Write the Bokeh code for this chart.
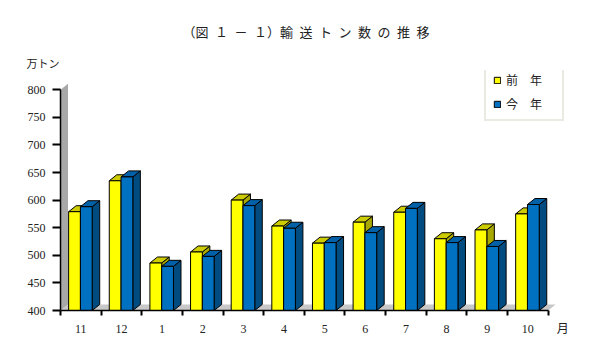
from bokeh.plotting import figure
from bokeh.models import (FixedTicker, Legend, LegendItem, Range1d, Title,
                          ColumnDataSource)
from bokeh.embed import file_html
from bokeh.resources import INLINE

# ---- data ----
months = ["11", "12", "1", "2", "3", "4", "5", "6", "7", "8", "9", "10"]
prev_year = [579, 635, 486, 506, 600, 553, 522, 560, 578, 530, 546, 575]
this_year = [588, 642, 480, 498, 590, 549, 523, 541, 585, 523, 516, 592]
y_ticks = [400, 450, 500, 550, 600, 650, 700, 750, 800]
series_names = ["前　年", "今　年"]
x_unit = "月"
y_unit = "万トン"
title_text = "（図\u2002１\u2002－\u2002１）輸\u2002送\u2002ト\u2002ン\u2002数\u2002の\u2002推\u2002移"

# ---- geometry / style ----
Y0, Y1 = 400, 800
DX, DY = 0.185, 10.9          # 3D depth offset in data units
BAR_W = 0.29
OFFS = [0.20, 0.49]           # left edge of each series within category
FRONT = ["#FFFF00", "#0070C0"]
TOP = ["#CCCC00", "#0060A8"]
SIDE = ["#A8A800", "#004C80"]
SERIF = "Liberation Serif, Noto Sans CJK JP"
CJK = "Noto Sans CJK JP"

p = figure(width=597, height=354, output_backend="svg", toolbar_location=None,
           title=None,
           x_range=Range1d(0, 12.5), y_range=Range1d(400, 834.8),
           min_border_left=60, min_border_right=29,
           min_border_top=70, min_border_bottom=44)
p.outline_line_color = None
p.xgrid.visible = False
p.ygrid.visible = False
p.background_fill_color = "white"
p.border_fill_color = "white"

n = len(months)
# floor and left wall of the 3D box
p.patch([0, n, n + DX, DX], [Y0, Y0, Y0 + DY, Y0 + DY],
        fill_color="#C8C8C8", line_color=None)
p.patch([0, 0, DX, DX], [Y0, Y1, Y1 + DY, Y0 + DY],
        fill_color="#A8A8A8", line_color=None)

fronts = []
for s, vals in enumerate([prev_year, this_year]):
    xs_side, ys_side, xs_top, ys_top = [], [], [], []
    xc = []
    for i, v in enumerate(vals):
        x0 = i + OFFS[s]
        x1 = x0 + BAR_W
        xc.append((x0 + x1) / 2)
        xs_side.append([x1, x1, x1 + DX, x1 + DX])
        ys_side.append([Y0, v, v + DY, Y0 + DY])
        xs_top.append([x0, x1, x1 + DX, x0 + DX])
        ys_top.append([v, v, v + DY, v + DY])
    p.patches(xs_side, ys_side, fill_color=SIDE[s], line_color="black", line_width=1)
    p.patches(xs_top, ys_top, fill_color=TOP[s], line_color="black", line_width=1)
    src = ColumnDataSource(dict(x=xc, top=vals))
    r = p.vbar(x="x", top="top", bottom=Y0, width=BAR_W, source=src,
               fill_color=FRONT[s], line_color="black", line_width=1)
    fronts.append(r)

# axes
unit_pos = 12.36
xa = p.xaxis[0]
xa.ticker = FixedTicker(ticks=[i + 0.5 for i in range(n)] + [unit_pos],
                        minor_ticks=list(range(n + 1)))
overrides = {i + 0.5: m for i, m in enumerate(months)}
overrides[unit_pos] = x_unit
xa.major_label_overrides = overrides
xa.bounds = (0, n)
xa.major_tick_out = 0
xa.major_tick_in = 0
xa.minor_tick_out = 5
xa.minor_tick_in = 0
xa.minor_tick_line_color = "black"
xa.minor_tick_line_width = 2
xa.axis_line_color = "black"
xa.axis_line_width = 1.5
xa.major_label_standoff = 6
xa.major_label_text_font = SERIF
xa.major_label_text_font_size = "12px"
xa.major_label_text_color = "#222222"

ya = p.yaxis[0]
ya.ticker = FixedTicker(ticks=y_ticks, minor_ticks=[])
ya.bounds = (Y0, Y1)
ya.major_tick_out = 8
ya.major_tick_in = 0
ya.major_tick_line_width = 2
ya.axis_line_color = "black"
ya.axis_line_width = 1.5
ya.major_label_standoff = 7
ya.major_label_text_font = SERIF
ya.major_label_text_font_size = "12px"
ya.major_label_text_color = "#222222"

# legend
leg = Legend(items=[LegendItem(label=series_names[0], renderers=[fronts[0]]),
                    LegendItem(label=series_names[1], renderers=[fronts[1]])],
             location=(424, 189), orientation="vertical",
             glyph_width=8, glyph_height=8, label_standoff=5,
             label_height=14, label_width=49, spacing=7, padding=7, margin=0,
             label_text_font=CJK, label_text_font_size="12px",
             label_text_color="#222222",
             border_line_color="#D6D6C6", border_line_width=2,
             background_fill_color="white", background_fill_alpha=1)
p.add_layout(leg, "center")

# unit label above the y axis, then main title
p.add_layout(Title(text=y_unit, align="left", offset=-34, standoff=0,
                   text_font=CJK, text_font_size="11px",
                   text_font_style="normal", text_color="#222222"), "above")
p.add_layout(Title(text=title_text, align="left", offset=122, standoff=24,
                   text_font=CJK, text_font_size="13px",
                   text_font_style="normal", text_color="#222222"), "above")

open("out.html", "w").write(file_html(p, INLINE))
